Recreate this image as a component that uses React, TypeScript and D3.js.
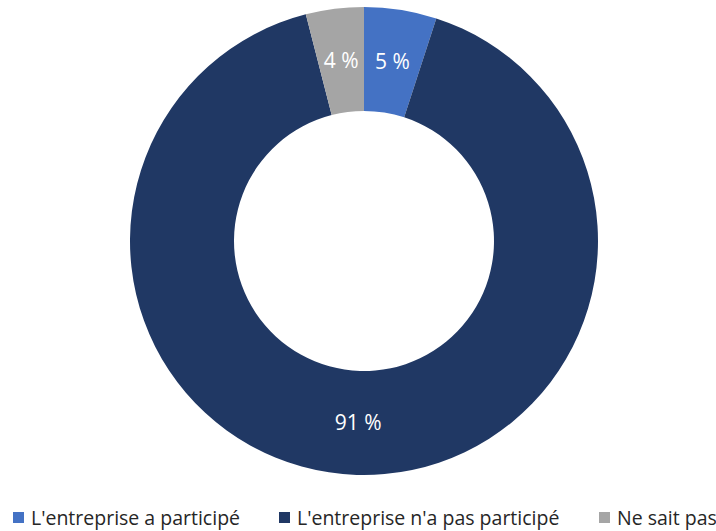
import React, { useEffect, useRef } from 'react'
import * as d3 from 'd3'

// chart data
const categories = ["L'entreprise a participé", "L'entreprise n'a pas participé", 'Ne sait pas']
const values = [5, 91, 4]
const labels = ['5 %', '91 %', '4 %']
const colors = ['#4472C4', '#203864', '#A5A5A5']

const W = 716
const H = 531

export default function App() {
  const ref = useRef<SVGSVGElement | null>(null)

  useEffect(() => {
    const svg = d3.select(ref.current)
    svg.selectAll('*').remove()

    const cx = 364
    const cy = 241
    const outerR = 234
    const innerR = 130

    const pie = d3.pie<number>().sort(null).value(d => d)
    const arcs = pie(values)
    const arc = d3.arc<d3.PieArcDatum<number>>().innerRadius(innerR).outerRadius(outerR)

    const g = svg.append('g').attr('transform', `translate(${cx},${cy})`)

    g.selectAll('path')
      .data(arcs)
      .enter()
      .append('path')
      .attr('d', arc)
      .attr('fill', (d, i) => colors[i])

    g.selectAll('text.lbl')
      .data(arcs)
      .enter()
      .append('text')
      .attr('class', 'lbl')
      .attr('transform', d => `translate(${arc.centroid(d)})`)
      .attr('text-anchor', 'middle')
      .attr('dy', '0.35em')
      .attr('fill', '#ffffff')
      .style('font-family', '"Open Sans", sans-serif')
      .style('font-size', '21px')
      .text((d, i) => labels[i])

    // legend
    const legendX = [13, 279, 599]
    const legend = svg.append('g').attr('transform', 'translate(0,518)')
    const items = legend.selectAll('g')
      .data(categories)
      .enter()
      .append('g')
      .attr('transform', (d, i) => `translate(${legendX[i]},0)`)
    items.append('rect')
      .attr('x', 0)
      .attr('y', -6)
      .attr('width', 11)
      .attr('height', 11)
      .attr('fill', (d, i) => colors[i])
    items.append('text')
      .attr('x', 18)
      .attr('dy', '0.35em')
      .attr('fill', '#262626')
      .style('font-family', '"Open Sans", sans-serif')
      .style('font-size', '19.5px')
      .text(d => d)
  }, [])

  return (
    <svg ref={ref} width={W} height={H}
      style={{ position: 'absolute', left: 0, top: 0, background: '#ffffff' }} />
  )
}
